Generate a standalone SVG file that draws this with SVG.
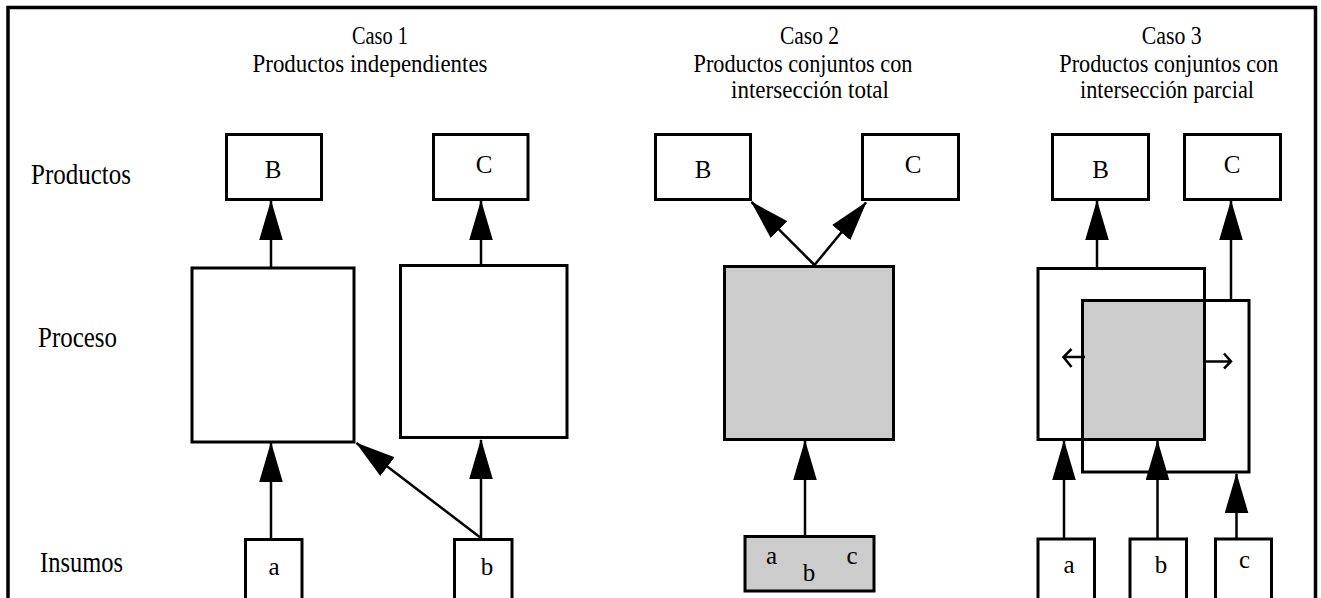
<svg xmlns="http://www.w3.org/2000/svg" width="1321" height="598" viewBox="0 0 1321 598">
<defs>
<style>
text{font-family:'Liberation Serif','DejaVu Serif',serif;fill:#000}
.h{font-size:25px;text-anchor:middle}
.lab{font-size:30px}
.nt{font-size:25px;text-anchor:middle}
.box{fill:#fff;stroke:#000;stroke-width:3}
.gbox{fill:#cccccc;stroke:#000;stroke-width:3}
.edge{fill:none;stroke:#000;stroke-width:2.5}
.frame{fill:none;stroke:#000;stroke-width:3.5}
</style>
<marker id="ah" markerUnits="userSpaceOnUse" markerWidth="40" markerHeight="24" viewBox="0 0 39 23" refX="38" refY="11.5" orient="auto">
<path d="M0,0 L39,11.5 L0,23 z" fill="#000"/>
</marker>
</defs>
<rect x="0" y="0" width="1321" height="598" fill="#fff"/>
<path class="frame" d="M8,600 V7.5 H1315.5 V600"/>

<g id="labels">
<text class="lab" x="31" y="184" textLength="100" lengthAdjust="spacingAndGlyphs">Productos</text>
<text class="lab" x="38" y="347" textLength="79" lengthAdjust="spacingAndGlyphs">Proceso</text>
<text class="lab" x="40" y="572" textLength="83" lengthAdjust="spacingAndGlyphs">Insumos</text>
</g>

<g id="headings">
<text class="h" x="380" y="44" textLength="56" lengthAdjust="spacingAndGlyphs">Caso 1</text>
<text class="h" x="370" y="72" textLength="235" lengthAdjust="spacingAndGlyphs">Productos independientes</text>
<text class="h" x="809.5" y="44" textLength="59" lengthAdjust="spacingAndGlyphs">Caso 2</text>
<text class="h" x="803" y="72" textLength="219" lengthAdjust="spacingAndGlyphs">Productos conjuntos con</text>
<text class="h" x="810" y="98" textLength="158" lengthAdjust="spacingAndGlyphs">intersección total</text>
<text class="h" x="1171.7" y="44" textLength="60" lengthAdjust="spacingAndGlyphs">Caso 3</text>
<text class="h" x="1168.8" y="72" textLength="219" lengthAdjust="spacingAndGlyphs">Productos conjuntos con</text>
<text class="h" x="1167" y="98" textLength="174" lengthAdjust="spacingAndGlyphs">intersección parcial</text>
</g>

<!-- Caso 1 -->
<g id="c1-B"><rect class="box" x="226.5" y="134.5" width="95" height="65"/><text class="nt" x="273" y="178">B</text></g>
<g id="c1-C"><rect class="box" x="433.5" y="134.5" width="94.5" height="65"/><text class="nt" x="484" y="173">C</text></g>
<g id="c1-P1"><rect class="box" x="192" y="268" width="162" height="174"/></g>
<g id="c1-P2"><rect class="box" x="400.5" y="265.5" width="166.5" height="172"/></g>
<g id="c1-a"><rect class="box" x="245.5" y="539.5" width="56.5" height="70"/><text class="nt" x="274" y="575">a</text></g>
<g id="c1-b"><rect class="box" x="454.5" y="539.5" width="57.5" height="70"/><text class="nt" x="487" y="575">b</text></g>

<!-- Caso 2 -->
<g id="c2-B"><rect class="box" x="655.5" y="134.5" width="95" height="65"/><text class="nt" x="703" y="178">B</text></g>
<g id="c2-C"><rect class="box" x="862.5" y="134.5" width="96" height="65"/><text class="nt" x="913" y="173">C</text></g>
<g id="c2-P"><rect class="gbox" x="724.5" y="266.5" width="169" height="173"/></g>
<g id="c2-in"><rect class="gbox" x="745" y="536.5" width="129" height="54.5"/>
<text class="nt" x="771.5" y="564">a</text><text class="nt" x="809" y="581">b</text><text class="nt" x="852" y="564">c</text></g>

<!-- Caso 3 -->
<g id="c3-B"><rect class="box" x="1052.5" y="134.5" width="96" height="65"/><text class="nt" x="1100.5" y="178">B</text></g>
<g id="c3-C"><rect class="box" x="1184.5" y="134.5" width="96" height="65"/><text class="nt" x="1232" y="173">C</text></g>
<g id="c3-P">
<rect x="1082.5" y="300.5" width="122" height="139" fill="#cccccc"/>
<rect x="1038" y="268.5" width="166.5" height="171" fill="none" stroke="#000" stroke-width="3"/>
<rect x="1082.5" y="300.5" width="166.5" height="171.5" fill="none" stroke="#000" stroke-width="3"/>
</g>
<g id="c3-a"><rect class="box" x="1038" y="539" width="56.5" height="70"/><text class="nt" x="1069" y="573">a</text></g>
<g id="c3-b"><rect class="box" x="1130" y="539" width="56.5" height="70"/><text class="nt" x="1161" y="573">b</text></g>
<g id="c3-c"><rect class="box" x="1215.5" y="539" width="56" height="70"/><text class="nt" x="1244.5" y="568">c</text></g>

<g id="connectors">
<line class="edge" x1="271" y1="539" x2="271" y2="443" marker-end="url(#ah)"/>
<line class="edge" x1="271" y1="267" x2="271" y2="201" marker-end="url(#ah)"/>
<line class="edge" x1="481" y1="538" x2="356.5" y2="443" marker-end="url(#ah)"/>
<line class="edge" x1="481" y1="538" x2="481" y2="440" marker-end="url(#ah)"/>
<line class="edge" x1="481" y1="265" x2="481" y2="201" marker-end="url(#ah)"/>
<line class="edge" x1="805" y1="536" x2="805" y2="441" marker-end="url(#ah)"/>
<line class="edge" x1="814.5" y1="265" x2="751.5" y2="202" marker-end="url(#ah)"/>
<line class="edge" x1="814.5" y1="265" x2="866" y2="202.5" marker-end="url(#ah)"/>
<line class="edge" x1="1097" y1="268" x2="1097" y2="201" marker-end="url(#ah)"/>
<line class="edge" x1="1231" y1="300" x2="1231" y2="201" marker-end="url(#ah)"/>
<line class="edge" x1="1064" y1="539" x2="1064" y2="441" marker-end="url(#ah)"/>
<line class="edge" x1="1157.5" y1="539" x2="1157.5" y2="441" marker-end="url(#ah)"/>
<line class="edge" x1="1236.5" y1="539" x2="1236.5" y2="474" marker-end="url(#ah)"/>
<path class="edge" d="M1085,357 H1063.5 M1071.5,349 L1063.5,357 L1071.5,367"/>
<path class="edge" d="M1203,361.5 H1231 M1224,353.5 L1231,361.5 L1224,368.5"/>
</g>
</svg>
